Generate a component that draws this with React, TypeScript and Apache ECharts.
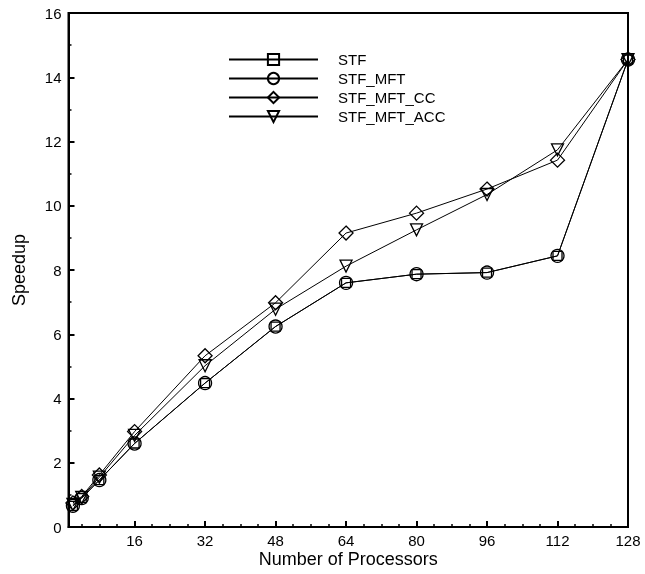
import React, { useEffect, useRef } from "react";
import * as echarts from "echarts";

const processors = [2, 4, 8, 16, 32, 48, 64, 80, 96, 112, 128];
const stf = [0.66, 0.9, 1.46, 2.6, 4.48, 6.24, 7.6, 7.87, 7.92, 8.44, 14.55];
const stfMft = [0.66, 0.9, 1.46, 2.6, 4.48, 6.24, 7.6, 7.87, 7.92, 8.44, 14.55];
const stfMftCc = [0.75, 0.95, 1.62, 2.97, 5.33, 6.98, 9.15, 9.77, 10.52, 11.42, 14.55];
const stfMftAcc = [0.7, 0.92, 1.55, 2.85, 5.02, 6.78, 8.12, 9.25, 10.35, 11.74, 14.55];
const xMajorTicks = [16, 32, 48, 64, 80, 96, 112, 128];
const xMinorTicks = [4, 8, 12, 20, 24, 28, 36, 40, 44, 52, 56, 60, 68, 72, 76, 84, 88, 92, 100, 104, 108, 116, 120, 124];

const FONT = "'Liberation Sans', Arial, Helvetica, sans-serif";

function mk(name: string, vals: number[], symbol: string, size: number, rotate = 0) {
  return {
    name,
    type: "line",
    data: processors.map((p, i) => [p, vals[i]]),
    symbol,
    symbolSize: size,
    symbolRotate: rotate,
    showAllSymbol: true,
    lineStyle: { color: "#000", width: 1 },
    itemStyle: { color: "rgba(0,0,0,0)", borderColor: "#000", borderWidth: 1.3 },
    emphasis: { disabled: true },
  };
}

export default function App() {
  const ref = useRef<HTMLDivElement>(null);
  useEffect(() => {
    const chart = echarts.init(ref.current!, null, { renderer: "svg" });
    chart.setOption({
      animation: false,
      textStyle: { fontFamily: FONT, color: "#000" },
      grid: {
        left: 68.5,
        right: 17,
        top: 13,
        bottom: 47,
        show: true,
        borderColor: "#000",
        borderWidth: 2,
        outerBoundsMode: "none",
      },
      legend: {
        orient: "vertical",
        left: 228,
        top: 52,
        padding: 0,
        itemWidth: 89,
        itemHeight: 14,
        itemGap: 4,
        textStyle: { fontFamily: FONT, fontSize: 15, color: "#000", padding: [0, 0, 0, 15] },
        data: ["STF", "STF_MFT", "STF_MFT_CC", "STF_MFT_ACC"],
      },
      xAxis: [
        {
          type: "value",
          min: 1,
          max: 128,
          position: "bottom",
          name: "Number of Processors",
          nameLocation: "middle",
          nameGap: 23,
          nameMoveOverlap: false,
          nameTextStyle: { fontFamily: FONT, fontSize: 18, color: "#000" },
          axisLine: { show: true, lineStyle: { color: "#000", width: 2 } },
          axisTick: { show: true, inside: true, length: 6, customValues: xMajorTicks, lineStyle: { color: "#000", width: 2 } },
          axisLabel: { show: true, customValues: xMajorTicks, fontSize: 15, color: "#000", margin: 6, fontFamily: FONT },
          splitLine: { show: false },
        },
        {
          type: "value",
          min: 1,
          max: 128,
          position: "bottom",
          axisLine: { show: false },
          axisTick: { show: true, inside: true, length: 3, customValues: xMinorTicks, lineStyle: { color: "#000", width: 1.5 } },
          axisLabel: { show: false },
          splitLine: { show: false },
        },
      ],
      yAxis: {
        type: "value",
        min: 0,
        max: 16,
        interval: 2,
        name: "Speedup",
        nameLocation: "middle",
        nameGap: 41,
        nameMoveOverlap: false,
        nameRotate: 90,
        nameTextStyle: { fontFamily: FONT, fontSize: 18, color: "#000" },
        axisLine: { show: true, lineStyle: { color: "#000", width: 2 } },
        axisTick: { show: true, inside: true, length: 6, lineStyle: { color: "#000", width: 2 } },
        minorTick: { show: true, splitNumber: 2, length: 3, lineStyle: { color: "#000", width: 1.5 } },
        axisLabel: { fontSize: 15, color: "#000", margin: 7, fontFamily: FONT },
        splitLine: { show: false },
      },
      series: [
        mk("STF", stf, "rect", 9),
        mk("STF_MFT", stfMft, "circle", 13),
        mk("STF_MFT_CC", stfMftCc, "diamond", 14),
        mk("STF_MFT_ACC", stfMftAcc, "triangle", 12, 180),
      ],
    });
    return () => chart.dispose();
  }, []);
  return <div ref={ref} style={{ position: "fixed", left: 0, top: 0, width: 645, height: 574 }} />;
}
